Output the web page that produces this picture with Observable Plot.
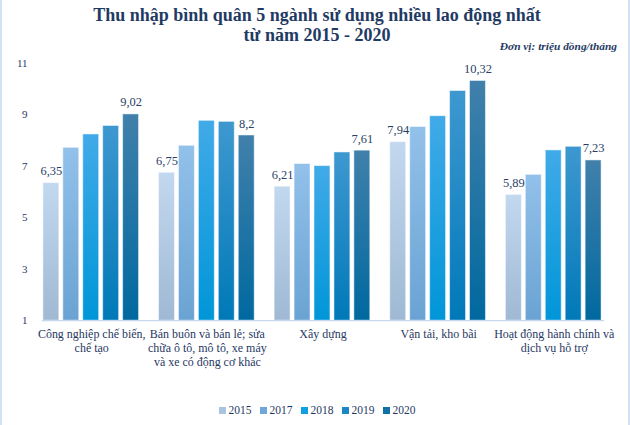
<!DOCTYPE html>
<html>
<head>
<meta charset="utf-8">
<script src="https://cdn.jsdelivr.net/npm/d3@7"></script>
<script src="https://cdn.jsdelivr.net/npm/@observablehq/plot@0.6"></script>
<style>
  html, body { margin: 0; padding: 0; background: #fff; }
  #wrap { position: relative; width: 630px; height: 425px; overflow: hidden; box-sizing: border-box;
          border-left: 2px solid #d3e2f3; border-right: 2px solid #d3e2f3; background: #fff;
          font-family: "Liberation Serif", "Times New Roman", serif; color: #1f3864; }
  #title { position: absolute; left: 0; width: 630px; top: 5px; text-align: center; font-weight: bold;
           font-size: 18px; line-height: 20px; color: #1f3a63; }
  #unit { position: absolute; right: 11px; top: 40px; font-size: 11.4px; font-style: italic; font-weight: bold; color: #1f3a63; }
  #chart { position: absolute; left: -2px; top: 55px; }
  #chart svg, #chart svg text { font-family: "Liberation Serif", "Times New Roman", serif !important; }
  #legend { position: absolute; left: 0; width: 630px; top: 403px; text-align: center; font-size: 11.5px; line-height: 14px; color: #1f3864;
            font-family: "Liberation Serif", "Times New Roman", serif; }
  #legend span.item { display: inline-block; margin: 0 4px; }
  #legend span.sw { display: inline-block; width: 7px; height: 7px; margin-right: 3px; vertical-align: 0px; }
</style>
</head>
<body>
<div id="wrap">
  <div id="title">Thu nhập bình quân 5 ngành sử dụng nhiều lao động nhất<br>từ năm 2015 - 2020</div>
  <div id="unit">Đơn vị: triệu đồng/tháng</div>
  <div id="chart"></div>
  <div id="legend"></div>
</div>
<script>
const categories = ["cn", "bb", "xd", "vt", "hd"];
const categoryLabels = [
  "Công nghiệp chế biến,\nchế tạo",
  "Bán buôn và bán lẻ; sửa\nchữa ô tô, mô tô, xe máy\nvà xe có động cơ khác",
  "Xây dựng",
  "Vận tải, kho bãi",
  "Hoạt động hành chính và\ndịch vụ hỗ trợ"
];
const years = ["2015", "2017", "2018", "2019", "2020"];
const v2015 = [6.35, 6.75, 6.21, 7.94, 5.89];
const v2017 = [7.72, 7.80, 7.09, 8.53, 6.67];
const v2018 = [8.24, 8.77, 7.01, 8.95, 7.62];
const v2019 = [8.57, 8.73, 7.54, 9.93, 7.76];
const v2020 = [9.02, 8.20, 7.61, 10.32, 7.23];
const labeledYears = ["2015", "2020"];
const yTicks = [1, 3, 5, 7, 9, 11];

const series = [v2015, v2017, v2018, v2019, v2020];
const data = [];
categories.forEach((c, i) => years.forEach((y, j) => data.push({cat: c, year: y, value: series[j][i]})));

const serif = "Liberation Serif, Times New Roman, serif";
const gradTop = ["#c2d8ef", "#92c1ea", "#41aae8", "#3e98d0", "#4180ab"];
const gradBot = ["#9fb9d4", "#6aa3d3", "#0096d8", "#0079b8", "#00699f"];
const swatch = ["#a9c4e0", "#6fa7d9", "#0ea0e0", "#1a87c4", "#1170a5"];
const labelOf = Object.fromEntries(categories.map((c, i) => [c, categoryLabels[i]]));
const fmt = v => String(v).replace(".", ",");

const plot = Plot.plot({
  width: 630,
  height: 335,
  marginTop: 8,
  marginBottom: 69,
  marginLeft: 32,
  marginRight: 15,
  style: {fontFamily: serif, color: "#1f3864", background: "transparent"},
  fx: {domain: categories, paddingInner: 0.145, paddingOuter: 0.07},
  x: {domain: years, paddingInner: 0.19, paddingOuter: 0},
  y: {domain: [1, 11]},
  color: {domain: years, range: years.map(y => `url(#g${y})`)},
  marks: [
    Plot.barY(data, {fx: "cat", x: "year", y1: 1, y2: "value", fill: "year", stroke: "#ffffff", strokeOpacity: 0.5, strokeWidth: 1}),
    Plot.text(data.filter(d => labeledYears.includes(d.year)), {fx: "cat", x: "year", y: "value", text: d => fmt(d.value), dy: -12, fontSize: 12.5, fontFamily: serif, fill: "#2a3f66"}),
    Plot.frame({anchor: "bottom", stroke: "#c7d7ec", strokeWidth: 1.2, facet: "super"}),
    Plot.axisY({ticks: yTicks, tickSize: 0, tickPadding: 15, fontSize: 11, fontFamily: serif, label: null}),
    Plot.axisX({ticks: [], label: null}),
    Plot.axisFx({anchor: "bottom", tickSize: 0, tickPadding: 8, fontSize: 12, fontFamily: serif, lineHeight: 1.14, label: null, tickFormat: c => labelOf[c]})
  ]
});

const ns = "http://www.w3.org/2000/svg";
const defs = document.createElementNS(ns, "defs");
years.forEach((y, j) => {
  const g = document.createElementNS(ns, "linearGradient");
  g.setAttribute("id", "g" + y);
  g.setAttribute("x1", "0"); g.setAttribute("y1", "0"); g.setAttribute("x2", "0"); g.setAttribute("y2", "1");
  const s1 = document.createElementNS(ns, "stop"); s1.setAttribute("offset", "0"); s1.setAttribute("stop-color", gradTop[j]);
  const s2 = document.createElementNS(ns, "stop"); s2.setAttribute("offset", "1"); s2.setAttribute("stop-color", gradBot[j]);
  g.appendChild(s1); g.appendChild(s2); defs.appendChild(g);
});
plot.insertBefore(defs, plot.firstChild);
document.getElementById("chart").appendChild(plot);

const legend = document.getElementById("legend");
years.forEach((y, j) => {
  const it = document.createElement("span"); it.className = "item";
  const sw = document.createElement("span"); sw.className = "sw"; sw.style.background = swatch[j];
  it.appendChild(sw); it.appendChild(document.createTextNode(y));
  legend.appendChild(it);
});
</script>
</body>
</html>
